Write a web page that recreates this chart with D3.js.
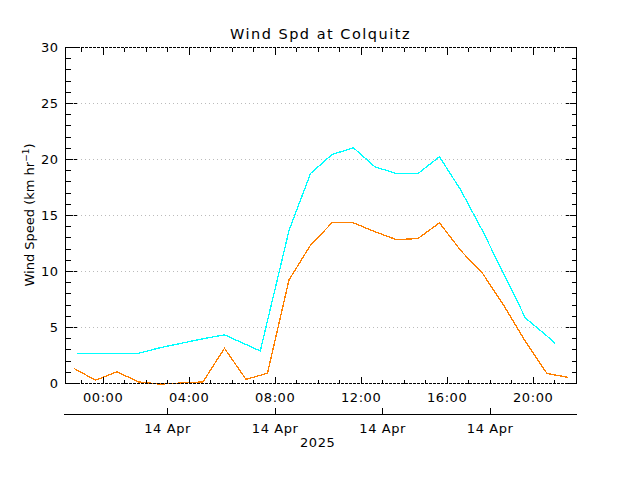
<!DOCTYPE html>
<html><head><meta charset="utf-8">
<script src="https://cdn.jsdelivr.net/npm/d3@7"></script>
<style>
body{margin:0;background:#fff;}
text{font-family:"DejaVu Sans",sans-serif;fill:#000;}
</style></head>
<body><svg id="c" width="640" height="480"></svg>
<script>
// ---- data ----
const title = "Wind Spd at Colquitz";
const yTicks = [0,5,10,15,20,25,30];
const hourLabels = ["00:00","04:00","08:00","12:00","16:00","20:00"];
const dateLabel = "14 Apr";
const yearLabel = "2025";
const gustTimes = ["2025-04-13T22:48","2025-04-13T23:40","2025-04-14T00:40","2025-04-14T01:40","2025-04-14T02:40","2025-04-14T03:40","2025-04-14T04:40","2025-04-14T05:40","2025-04-14T07:20","2025-04-14T08:40","2025-04-14T09:40","2025-04-14T10:40","2025-04-14T11:40","2025-04-14T12:40","2025-04-14T13:40","2025-04-14T14:40","2025-04-14T15:40","2025-04-14T16:40","2025-04-14T17:40","2025-04-14T18:40","2025-04-14T19:40","2025-04-14T20:40","2025-04-14T21:03"];
const gustValues = [2.65,2.65,2.65,2.65,3.15,3.55,3.95,4.3,2.86,13.6,18.7,20.4,21.0,19.3,18.7,18.7,20.2,17.2,13.6,9.7,5.8,4.2,3.5];
const speedTimes = ["2025-04-13T22:40","2025-04-13T23:40","2025-04-14T00:40","2025-04-14T01:40","2025-04-14T02:40","2025-04-14T03:40","2025-04-14T04:40","2025-04-14T05:40","2025-04-14T06:40","2025-04-14T07:40","2025-04-14T08:40","2025-04-14T09:40","2025-04-14T10:40","2025-04-14T11:40","2025-04-14T12:40","2025-04-14T13:40","2025-04-14T14:40","2025-04-14T15:40","2025-04-14T16:40","2025-04-14T17:40","2025-04-14T18:40","2025-04-14T19:40","2025-04-14T20:40","2025-04-14T21:40"];
const speedValues = [1.3,0.25,1.0,0.1,-0.1,0.0,0.1,3.1,0.33,0.87,9.2,12.3,14.3,14.3,13.5,12.8,12.9,14.3,11.8,9.8,6.9,3.7,0.85,0.5];

const P = s => new Date(s + ":00Z");
const svg = d3.select("#c");
const L=65,R=576,T=47,B=383;
const x = d3.scaleUtc().domain([P("2025-04-13T22:15"), P("2025-04-14T22:01")]).range([L,R]);
const y = d3.scaleLinear().domain([0,30]).range([B,T]);

// grid
svg.append("g").selectAll("line").data(yTicks.filter(v=>v>0&&v<30)).join("line")
  .attr("x1",L).attr("x2",R).attr("y1",d=>y(d)+0.5).attr("y2",d=>y(d)+0.5)
  .attr("stroke","#bbb").attr("stroke-dasharray","1,3");

// lines
const line = (times, vals) => d3.line().x((d,i)=>x(P(times[i]))).y(d=>y(d))(vals);
svg.append("path").attr("d",line(gustTimes,gustValues)).attr("fill","none")
  .attr("stroke","#00ffff").attr("stroke-width",1.3).attr("shape-rendering","crispEdges");
svg.append("path").attr("d",line(speedTimes,speedValues)).attr("fill","none")
  .attr("stroke","#ff8000").attr("stroke-width",1.3).attr("shape-rendering","crispEdges");

// frame
const fr = svg.append("g").attr("stroke","#000").attr("shape-rendering","crispEdges");
fr.append("line").attr("x1",L+0.5).attr("x2",L+0.5).attr("y1",T).attr("y2",B);
fr.append("line").attr("x1",R+0.5).attr("x2",R+0.5).attr("y1",T).attr("y2",B+1);
fr.append("line").attr("x1",L).attr("x2",R).attr("y1",T+0.5).attr("y2",T+0.5).attr("stroke-dasharray","3,1");
fr.append("line").attr("x1",L).attr("x2",R).attr("y1",B+0.5).attr("y2",B+0.5).attr("stroke-dasharray","3,1");

// y axes
const yMinor = d3.range(0,31,1);
function yAx(g, axisFn, size, vals, dashed, labels){
  const a = axisFn(y).tickValues(vals).tickSize(size).tickFormat(labels?d3.format("d"):"");
  g.call(a); g.select(".domain").remove();
  g.selectAll("line").attr("shape-rendering","crispEdges");
  if(dashed) g.selectAll("line").attr("stroke-dasharray","3,1");
  g.selectAll("text").attr("font-size",13).attr("font-family","DejaVu Sans").attr("letter-spacing",0.5).attr("x", labels? -7 : 0);
}
yAx(svg.append("g").attr("transform",`translate(${L+0.5},0)`), d3.axisLeft, -5, yMinor, false, false);
yAx(svg.append("g").attr("transform",`translate(${L+0.5},0)`), d3.axisLeft, -11, yTicks, true, false);
yAx(svg.append("g").attr("transform",`translate(${L+0.5},0)`), d3.axisLeft, 0, yTicks, false, true);
yAx(svg.append("g").attr("transform",`translate(${R+0.5},0)`), d3.axisRight, -5, yMinor, false, false);
yAx(svg.append("g").attr("transform",`translate(${R+0.5},0)`), d3.axisRight, -11, yTicks, true, false);

// x axes
const hourTicks = d3.utcHour.range(P("2025-04-13T23:00"), P("2025-04-14T22:01"));
const majorTicks = hourLabels.map(h=>P("2025-04-14T"+h));
function xAx(g, axisFn, size, vals, labels){
  const a = axisFn(x).tickValues(vals).tickSize(size).tickFormat(labels?d3.utcFormat("%H:%M"):"");
  g.call(a); g.select(".domain").remove();
  g.selectAll("line").attr("shape-rendering","crispEdges");
  g.selectAll("text").attr("font-size",13).attr("font-family","DejaVu Sans").attr("letter-spacing",0.6);
  return g;
}
xAx(svg.append("g").attr("transform",`translate(0,${B+0.5})`), d3.axisBottom, -4, hourTicks, false);
xAx(svg.append("g").attr("transform",`translate(0,${B+0.5})`), d3.axisBottom, -7, majorTicks, false);
xAx(svg.append("g").attr("transform",`translate(0,${B+0.5})`), d3.axisBottom, 0, majorTicks, true).selectAll("text").attr("y",9);
xAx(svg.append("g").attr("transform",`translate(0,${T+0.5})`), d3.axisTop, -4, hourTicks, false);
xAx(svg.append("g").attr("transform",`translate(0,${T+0.5})`), d3.axisTop, -7, majorTicks, false);

// second date axis
const dateTicks = ["03:00","08:00","13:00","18:00"].map(h=>P("2025-04-14T"+h));
const g2 = svg.append("g").attr("transform","translate(0,414.5)");
g2.call(d3.axisBottom(x).tickValues(dateTicks).tickSize(-7).tickSizeOuter(0).tickFormat(()=>dateLabel));
g2.select(".domain").attr("d",`M${L-1},0H${R+1}`).attr("shape-rendering","crispEdges");
g2.selectAll("line").attr("shape-rendering","crispEdges");
g2.selectAll("text").attr("font-size",13).attr("font-family","DejaVu Sans").attr("letter-spacing",0.6).attr("y",9);
svg.append("text").attr("x",x(P("2025-04-14T10:00"))).attr("y",447).attr("text-anchor","middle")
  .attr("font-size",13).attr("letter-spacing",0.6).text(yearLabel);

// title & y label
svg.append("text").attr("x",(L+R)/2).attr("y",39).attr("text-anchor","middle").attr("font-size",14.5).attr("letter-spacing",1.5).text(title);
const yl = svg.append("text").attr("transform",`translate(34,${(T+B)/2}) rotate(-90)`).attr("text-anchor","middle").attr("font-size",13);
yl.append("tspan").text("Wind Speed (km hr");
yl.append("tspan").attr("dy",-5).attr("font-size",9).text("\u22121");
yl.append("tspan").attr("dy",5).text(")");
</script></body></html>
